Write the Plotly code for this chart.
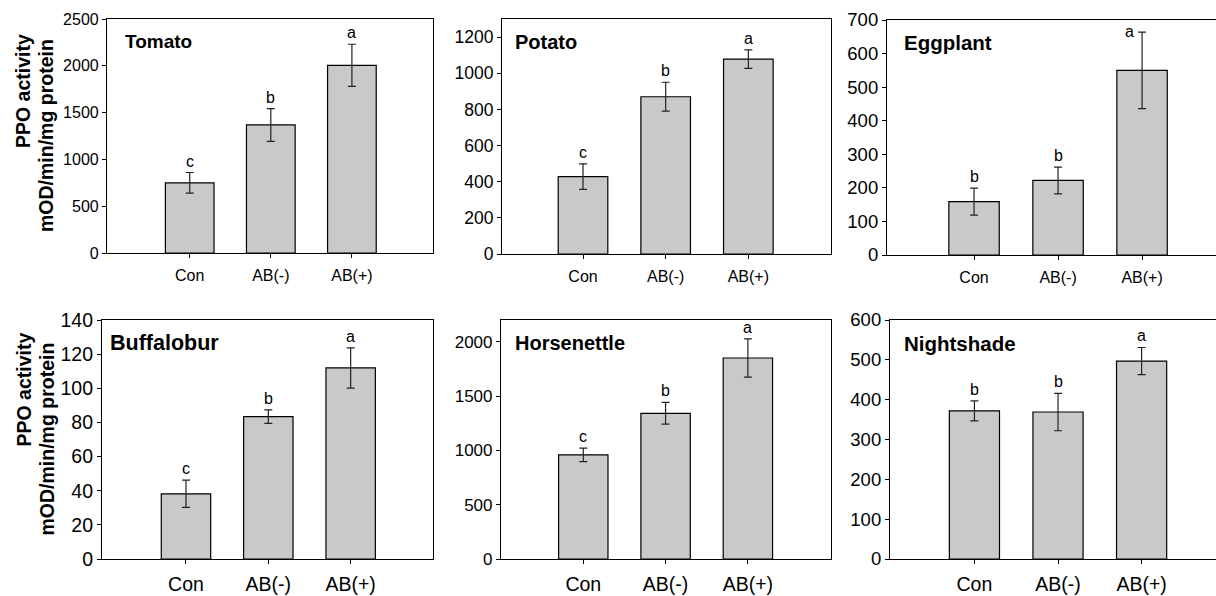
import plotly.graph_objects as go

W, H = 1216, 596

categories = ["Con", "AB(-)", "AB(+)"]
species = ["Tomato", "Potato", "Eggplant", "Buffalobur", "Horsenettle", "Nightshade"]

tomato_mean = [750, 1368, 2005]
tomato_err = [110, 175, 225]
potato_mean = [428, 870, 1078]
potato_err = [71, 80, 51]
eggplant_mean = [159, 222, 550]
eggplant_err = [40, 40, 114]
buffalobur_mean = [38.2, 83.4, 111.9]
buffalobur_err = [8, 4, 11.8]
horsenettle_mean = [959, 1341, 1850]
horsenettle_err = [62, 100, 176]
nightshade_mean = [372, 369, 497]
nightshade_err = [25, 47, 34]

tomato_letters = ["c", "b", "a"]
potato_letters = ["c", "b", "a"]
eggplant_letters = ["b", "b", "a"]
buffalobur_letters = ["c", "b", "a"]
horsenettle_letters = ["c", "b", "a"]
nightshade_letters = ["b", "b", "a"]

y_max = [2500, 1300, 700, 140, 2200, 600]
y_dtick = [500, 200, 100, 20, 500, 100]

means = [tomato_mean, potato_mean, eggplant_mean, buffalobur_mean, horsenettle_mean, nightshade_mean]
errs = [tomato_err, potato_err, eggplant_err, buffalobur_err, horsenettle_err, nightshade_err]
letters = [tomato_letters, potato_letters, eggplant_letters, buffalobur_letters,
           horsenettle_letters, nightshade_letters]

# layout (pixel boxes: left, right, top, bottom)
boxes = [
    (107, 433, 19, 253),
    (502, 831, 19, 254),
    (887, 1216, 20, 255),
    (102, 433, 320, 559),
    (501, 831, 320, 559),
    (890, 1216, 320, 559),
]
x_ranges = [(-1.02, 3.0), (-0.98, 3.0), (-1.036, 2.88), (-1.02, 3.0), (-1.0, 3.01), (-1.01, 2.89)]
ytick_fs = [16, 17.5, 18.5, 19.5, 17, 18.5]
xtick_fs = [16, 16, 16, 19.5, 19.5, 19.5]
xtick_standoff = [4, 4, 4, 3, 3, 3]
title_fs = [19, 20, 20.5, 21.5, 20, 20.5]
title_dx = [16, 11, 15, 6, 12, 12]

FONT = "Liberation Sans, Arial, Helvetica, sans-serif"
BAR = "#c8c9cb"

fig = go.Figure()
annotations = []

for k in range(6):
    ax = "" if k == 0 else str(k + 1)
    xa, ya = "x" + ax, "y" + ax
    l, r, t, b = boxes[k]
    fig.add_trace(go.Bar(
        x=categories, y=means[k], xaxis=xa, yaxis=ya, width=0.6,
        marker=dict(color=BAR, line=dict(color="#000000", width=1.2)),
        error_y=dict(type="data", array=errs[k], visible=True, color="#222222",
                     thickness=1.2, width=4),
        showlegend=False, hoverinfo="skip",
    ))
    right_col = k in (2, 5)
    fig.layout["xaxis" + ax] = dict(
        domain=[l / W, r / W], anchor=ya, type="category",
        categoryorder="array", categoryarray=categories, automargin=False,
        range=list(x_ranges[k]), showline=True, linecolor="#000000", linewidth=1.2,
        mirror=True, ticks="outside", ticklen=4, tickcolor="#000000", tickwidth=1,
        showgrid=False, zeroline=False, ticklabelstandoff=xtick_standoff[k],
        tickfont=dict(family=FONT, size=xtick_fs[k], color="#000000"),
    )
    fig.layout["yaxis" + ax] = dict(
        domain=[1 - b / H, 1 - t / H], anchor=xa, automargin=False,
        range=[0, y_max[k]], dtick=y_dtick[k], tick0=0,
        showline=True, linecolor="#000000", linewidth=1.2,
        mirror=(not right_col), ticks="outside", ticklen=4, tickcolor="#000000", tickwidth=1,
        showgrid=False, zeroline=False,
        tickfont=dict(family=FONT, size=ytick_fs[k], color="#000000"),
    )
    # panel title
    annotations.append(dict(
        xref="paper", yref="paper",
        x=(l + title_dx[k]) / W,
        y=1 - (t + 23) / H, xanchor="left", yanchor="middle",
        text="<b>%s</b>" % species[k], showarrow=False,
        font=dict(family=FONT, size=title_fs[k], color="#000000"),
    ))
    # significance letters
    for i, c in enumerate(categories):
        top = means[k][i] + errs[k][i]
        if top > 0.94 * y_max[k]:
            annotations.append(dict(
                x=c, y=top, xref=xa, yref=ya, text=letters[k][i], showarrow=False,
                xanchor="center", yanchor="middle", xshift=-13, yshift=1,
                font=dict(family=FONT, size=16, color="#000000"),
            ))
        else:
            annotations.append(dict(
                x=c, y=top, xref=xa, yref=ya, text=letters[k][i], showarrow=False,
                xanchor="center", yanchor="bottom", yshift=1,
                font=dict(family=FONT, size=16, color="#000000"),
            ))

# y-axis titles (two lines, end-aligned)
for (cy1, cy2) in [(91, 136), (389.5, 439.5)]:
    annotations.append(dict(
        xref="paper", yref="paper", x=23 / W, y=1 - cy1 / H,
        xanchor="center", yanchor="middle", textangle=-90,
        text="<b>PPO activity</b>", showarrow=False,
        font=dict(family=FONT, size=19.5, color="#000000"),
    ))
    annotations.append(dict(
        xref="paper", yref="paper", x=46 / W, y=1 - cy2 / H,
        xanchor="center", yanchor="middle", textangle=-90,
        text="<b>mOD/min/mg protein</b>", showarrow=False,
        font=dict(family=FONT, size=19.5, color="#000000"),
    ))

fig.update_layout(
    template="none",
    width=W, height=H, margin=dict(l=0, r=0, t=0, b=0, autoexpand=False),
    paper_bgcolor="#ffffff", plot_bgcolor="#ffffff",
    annotations=annotations, bargap=0.4,
    font=dict(family=FONT, color="#000000"),
)

fig.write_html("out.html")
